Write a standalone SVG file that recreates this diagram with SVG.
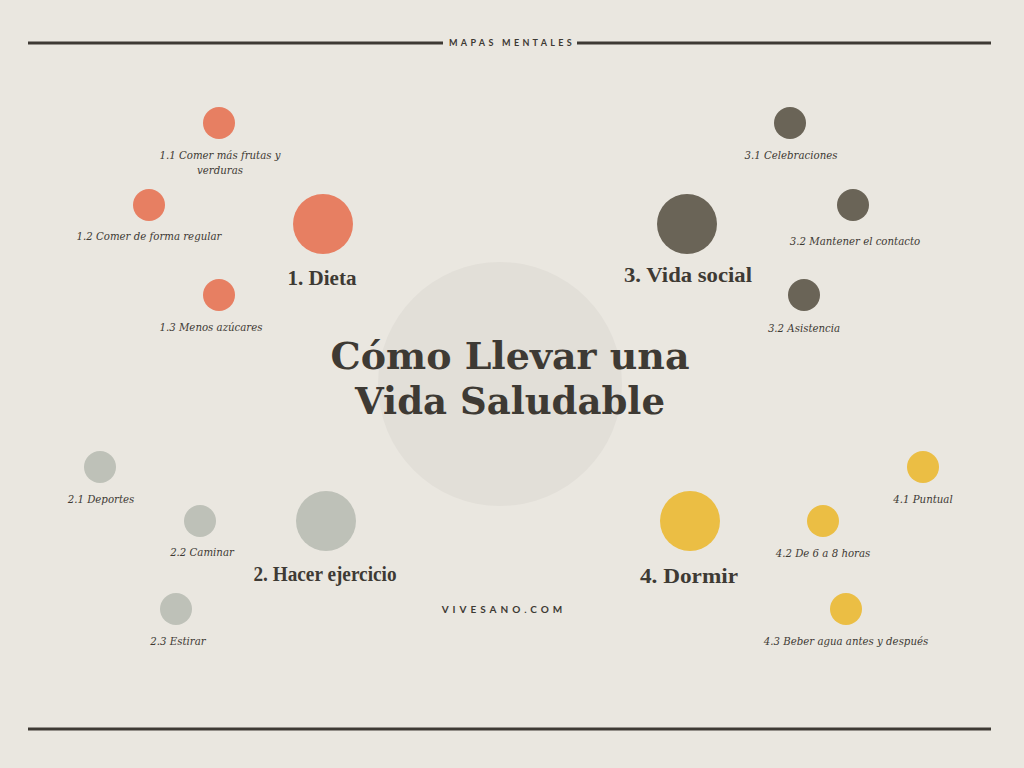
<svg xmlns="http://www.w3.org/2000/svg" width="1024" height="768" viewBox="0 0 1024 768">
<style>
.bg{fill:#EAE7E0}
.rule{stroke:#3E3A34;stroke-width:3}
.cap{font-family:Lato,"Liberation Sans",sans-serif;font-weight:bold;font-size:9px;letter-spacing:3.3px;fill:#3E3A34;text-anchor:middle}
.cap2{font-family:Lato,"Liberation Sans",sans-serif;font-weight:bold;font-size:10px;letter-spacing:4px;fill:#3E3A34;text-anchor:middle}
.title{font-family:"DejaVu Serif","Liberation Serif",serif;font-weight:bold;font-size:38px;fill:#3E3A34;text-anchor:middle}
.head{font-family:"Liberation Serif","DejaVu Serif",serif;font-weight:bold;font-size:20px;fill:#3E3A34;text-anchor:middle}
.sub{font-family:"DejaVu Serif","Liberation Serif",serif;font-style:italic;font-size:10.2px;fill:#3E3A34;text-anchor:middle}
.o{fill:#E77F62}.d{fill:#6A6457}.g{fill:#BEC1B8}.y{fill:#EBBE44}
</style>
<rect class="bg" x="0" y="0" width="1024" height="768"/>
<line class="rule" x1="28" y1="43" x2="443" y2="43"/>
<line class="rule" x1="577" y1="43" x2="991" y2="43"/>
<text class="cap" x="512" y="46">MAPAS MENTALES</text>
<line class="rule" x1="28" y1="729" x2="991" y2="729"/>
<g id="center">
<circle cx="500" cy="384" r="122" fill="#E2DFD8"/>
<text class="title" x="510" y="369" textLength="359" lengthAdjust="spacingAndGlyphs">Cómo Llevar una</text>
<text class="title" x="510" y="414" textLength="310" lengthAdjust="spacingAndGlyphs">Vida Saludable</text>
</g>
<g id="connectors"></g>
<g id="n1"><circle class="o" cx="323" cy="224" r="30"/><text class="head" x="322" y="285" textLength="69" lengthAdjust="spacingAndGlyphs">1. Dieta</text></g>
<g id="n1-1"><circle class="o" cx="219" cy="123" r="16"/><text class="sub" x="220" y="159">1.1 Comer más frutas y</text><text class="sub" x="220" y="174">verduras</text></g>
<g id="n1-2"><circle class="o" cx="149" cy="205" r="16"/><text class="sub" x="149" y="240">1.2 Comer de forma regular</text></g>
<g id="n1-3"><circle class="o" cx="219" cy="295" r="16"/><text class="sub" x="211" y="331">1.3 Menos azúcares</text></g>
<g id="n3"><circle class="d" cx="687" cy="224" r="30"/><text class="head" x="688" y="282" textLength="128" lengthAdjust="spacingAndGlyphs">3. Vida social</text></g>
<g id="n3-1"><circle class="d" cx="790" cy="123" r="16"/><text class="sub" x="791" y="159">3.1 Celebraciones</text></g>
<g id="n3-2"><circle class="d" cx="853" cy="205" r="16"/><text class="sub" x="855" y="245">3.2 Mantener el contacto</text></g>
<g id="n3-3"><circle class="d" cx="804" cy="295" r="16"/><text class="sub" x="804" y="332">3.2 Asistencia</text></g>
<g id="n2"><circle class="g" cx="326" cy="521" r="30"/><text class="head" x="325" y="581" textLength="143" lengthAdjust="spacingAndGlyphs">2. Hacer ejercicio</text></g>
<g id="n2-1"><circle class="g" cx="100" cy="467" r="16"/><text class="sub" x="101" y="503">2.1 Deportes</text></g>
<g id="n2-2"><circle class="g" cx="200" cy="521" r="16"/><text class="sub" x="202" y="556">2.2 Caminar</text></g>
<g id="n2-3"><circle class="g" cx="176" cy="609" r="16"/><text class="sub" x="178" y="645">2.3 Estirar</text></g>
<g id="n4"><circle class="y" cx="690" cy="521" r="30"/><text class="head" x="689" y="583" textLength="98" lengthAdjust="spacingAndGlyphs">4. Dormir</text></g>
<g id="n4-1"><circle class="y" cx="923" cy="467" r="16"/><text class="sub" x="923" y="503">4.1 Puntual</text></g>
<g id="n4-2"><circle class="y" cx="823" cy="521" r="16"/><text class="sub" x="823" y="557">4.2 De 6 a 8 horas</text></g>
<g id="n4-3"><circle class="y" cx="846" cy="609" r="16"/><text class="sub" x="846" y="645">4.3 Beber agua antes y después</text></g>
<text class="cap2" x="504" y="613">VIVESANO.COM</text>
</svg>
